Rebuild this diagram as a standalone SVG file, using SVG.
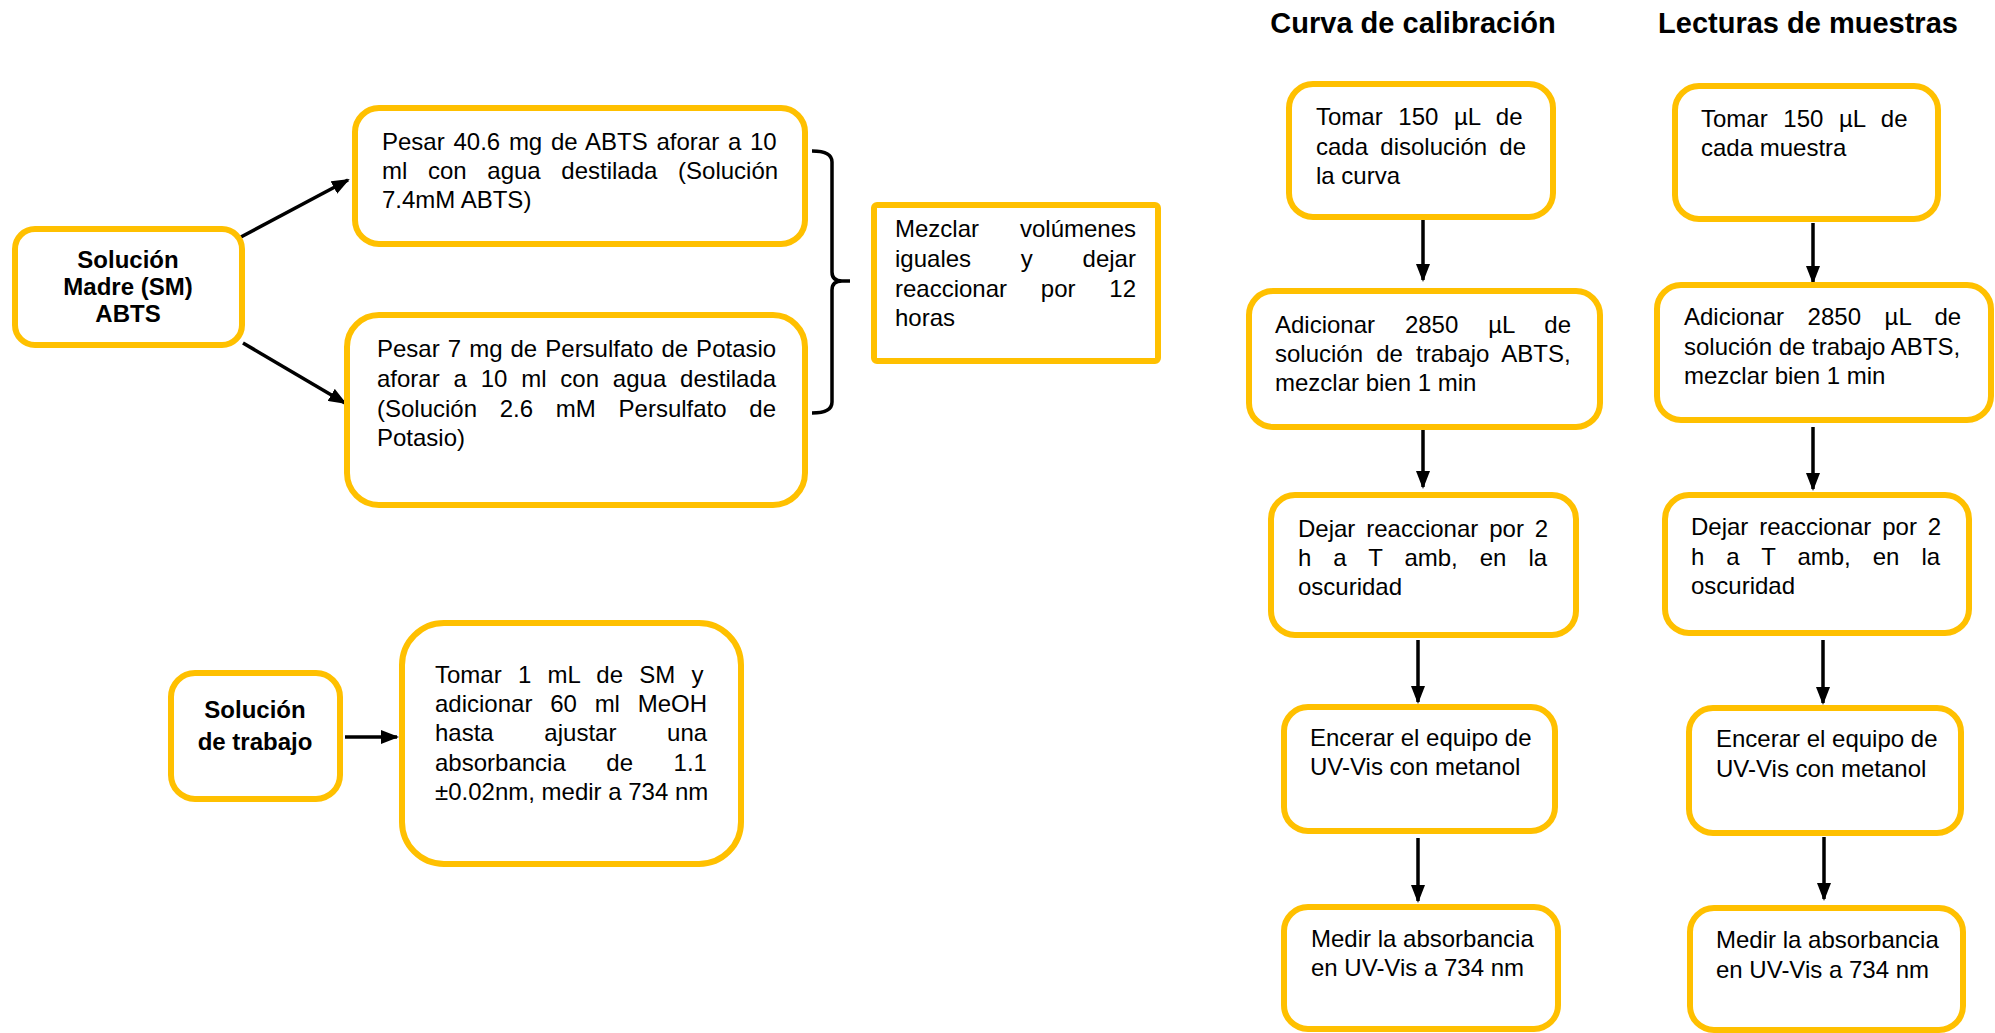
<svg xmlns="http://www.w3.org/2000/svg" width="1995" height="1033" viewBox="0 0 1995 1033">
<style>
.box{fill:#fff;stroke:#FFC000;stroke-width:6}
.t{font-family:"Liberation Sans",Arial,sans-serif;font-size:24px;fill:#000}
.b{font-family:"Liberation Sans",Arial,sans-serif;font-size:24px;font-weight:bold;fill:#000;text-anchor:middle}
.h{font-family:"Liberation Sans",Arial,sans-serif;font-size:29px;font-weight:bold;fill:#000;text-anchor:middle}
.c{stroke:#000;stroke-width:3.5;fill:none}
</style>
<defs>
<marker id="ah" markerWidth="18" markerHeight="14" refX="16" refY="7" orient="auto" markerUnits="userSpaceOnUse">
<path d="M0,0 L18,7 L0,14 z" fill="#000"/>
</marker>
</defs>
<rect width="1995" height="1033" fill="#fff"/>

<text class="h" x="1413" y="33">Curva de calibración</text>
<text class="h" x="1808" y="33">Lecturas de muestras</text>

<g id="connectors">
<line class="c" x1="239" y1="238" x2="348" y2="180" marker-end="url(#ah)"/>
<line class="c" x1="243" y1="343" x2="345" y2="403" marker-end="url(#ah)"/>
<path class="c" d="M812,151 Q832,151 832,162 V272 Q832,281 842,281 H850 M842,281 Q832,281 832,290 V402 Q832,413 812,413"/>
<line class="c" x1="345" y1="737" x2="397" y2="737" marker-end="url(#ah)"/>
<line class="c" x1="1423" y1="220" x2="1423" y2="280" marker-end="url(#ah)"/>
<line class="c" x1="1423" y1="428" x2="1423" y2="487" marker-end="url(#ah)"/>
<line class="c" x1="1418" y1="640" x2="1418" y2="702" marker-end="url(#ah)"/>
<line class="c" x1="1418" y1="838" x2="1418" y2="901" marker-end="url(#ah)"/>
<line class="c" x1="1813" y1="223" x2="1813" y2="282" marker-end="url(#ah)"/>
<line class="c" x1="1813" y1="427" x2="1813" y2="489" marker-end="url(#ah)"/>
<line class="c" x1="1823" y1="640" x2="1823" y2="703" marker-end="url(#ah)"/>
<line class="c" x1="1824" y1="837" x2="1824" y2="899" stroke-width="2.5" marker-end="url(#ah)"/>
</g>

<g id="sm">
<rect class="box" x="15" y="229" width="227" height="116" rx="20"/>
<text class="b" x="128" y="268">Solución</text>
<text class="b" x="128" y="295">Madre (SM)</text>
<text class="b" x="128" y="322">ABTS</text>
</g>

<g id="abts">
<rect class="box" x="355" y="108" width="450" height="136" rx="24"/>
<text class="t" x="382" y="150" word-spacing="2.07">Pesar 40.6 mg de ABTS aforar a 10</text>
<text class="t" x="382" y="179" word-spacing="13.97">ml con agua destilada (Solución</text>
<text class="t" x="382" y="208">7.4mM ABTS)</text>
</g>

<g id="persulfato">
<rect class="box" x="347" y="315" width="458" height="190" rx="32"/>
<text class="t" x="377" y="357" word-spacing="1.38">Pesar 7 mg de Persulfato de Potasio</text>
<text class="t" x="377" y="387" word-spacing="7.15">aforar a 10 ml con agua destilada</text>
<text class="t" x="377" y="417" word-spacing="16.05">(Solución 2.6 mM Persulfato de</text>
<text class="t" x="377" y="446">Potasio)</text>
</g>

<g id="mezclar">
<rect class="box" x="874" y="205" width="284" height="156" rx="3"/>
<text class="t" x="895" y="237" word-spacing="34.3">Mezclar volúmenes</text>
<text class="t" x="895" y="267" word-spacing="43.1">iguales y dejar</text>
<text class="t" x="895" y="297" word-spacing="27.1">reaccionar por 12</text>
<text class="t" x="895" y="326">horas</text>
</g>

<g id="trabajo">
<rect class="box" x="171" y="673" width="169" height="126" rx="24"/>
<text class="b" x="255" y="718">Solución</text>
<text class="b" x="255" y="750">de trabajo</text>
</g>

<g id="tomar1ml">
<rect class="box" x="402" y="623" width="339" height="241" rx="42"/>
<text class="t" x="435" y="683" word-spacing="9.61">Tomar 1 mL de SM y</text>
<text class="t" x="435" y="712" word-spacing="11.1">adicionar 60 ml MeOH</text>
<text class="t" x="435" y="741" word-spacing="43.98">hasta ajustar una</text>
<text class="t" x="435" y="771" word-spacing="33.9">absorbancia de 1.1</text>
<text class="t" x="435" y="800">±0.02nm, medir a 734 nm</text>
</g>

<g id="c1">
<rect class="box" x="1289" y="84" width="264" height="133" rx="24"/>
<text class="t" x="1316" y="125" word-spacing="8.93">Tomar 150 µL de</text>
<text class="t" x="1316" y="155" word-spacing="5.63">cada disolución de</text>
<text class="t" x="1316" y="184">la curva</text>
</g>

<g id="c2">
<rect class="box" x="1249" y="291" width="351" height="136" rx="24"/>
<text class="t" x="1275" y="333" word-spacing="23.2">Adicionar 2850 µL de</text>
<text class="t" x="1275" y="362" word-spacing="6.5">solución de trabajo ABTS,</text>
<text class="t" x="1275" y="391">mezclar bien 1 min</text>
</g>

<g id="c3">
<rect class="box" x="1271" y="495" width="305" height="140" rx="24"/>
<text class="t" x="1298" y="537" word-spacing="4.23">Dejar reaccionar por 2</text>
<text class="t" x="1298" y="566" word-spacing="15.3">h a T amb, en la</text>
<text class="t" x="1298" y="595">oscuridad</text>
</g>

<g id="c4">
<rect class="box" x="1284" y="707" width="271" height="124" rx="24"/>
<text class="t" x="1310" y="746">Encerar el equipo de</text>
<text class="t" x="1310" y="775">UV-Vis con metanol</text>
</g>

<g id="c5">
<rect class="box" x="1284" y="907" width="274" height="122" rx="24"/>
<text class="t" x="1311" y="947">Medir la absorbancia</text>
<text class="t" x="1311" y="976">en UV-Vis a 734 nm</text>
</g>

<g id="d1">
<rect class="box" x="1675" y="86" width="263" height="133" rx="24"/>
<text class="t" x="1701" y="127" word-spacing="8.93">Tomar 150 µL de</text>
<text class="t" x="1701" y="156">cada muestra</text>
</g>

<g id="d2">
<rect class="box" x="1657" y="285" width="334" height="135" rx="24"/>
<text class="t" x="1684" y="325" word-spacing="16.9">Adicionar 2850 µL de</text>
<text class="t" x="1684" y="355">solución de trabajo ABTS,</text>
<text class="t" x="1684" y="384">mezclar bien 1 min</text>
</g>

<g id="d3">
<rect class="box" x="1665" y="495" width="304" height="138" rx="24"/>
<text class="t" x="1691" y="535" word-spacing="4.23">Dejar reaccionar por 2</text>
<text class="t" x="1691" y="565" word-spacing="15.3">h a T amb, en la</text>
<text class="t" x="1691" y="594">oscuridad</text>
</g>

<g id="d4">
<rect class="box" x="1689" y="708" width="272" height="125" rx="24"/>
<text class="t" x="1716" y="747">Encerar el equipo de</text>
<text class="t" x="1716" y="777">UV-Vis con metanol</text>
</g>

<g id="d5">
<rect class="box" x="1690" y="908" width="273" height="122" rx="24"/>
<text class="t" x="1716" y="948">Medir la absorbancia</text>
<text class="t" x="1716" y="978">en UV-Vis a 734 nm</text>
</g>
</svg>
